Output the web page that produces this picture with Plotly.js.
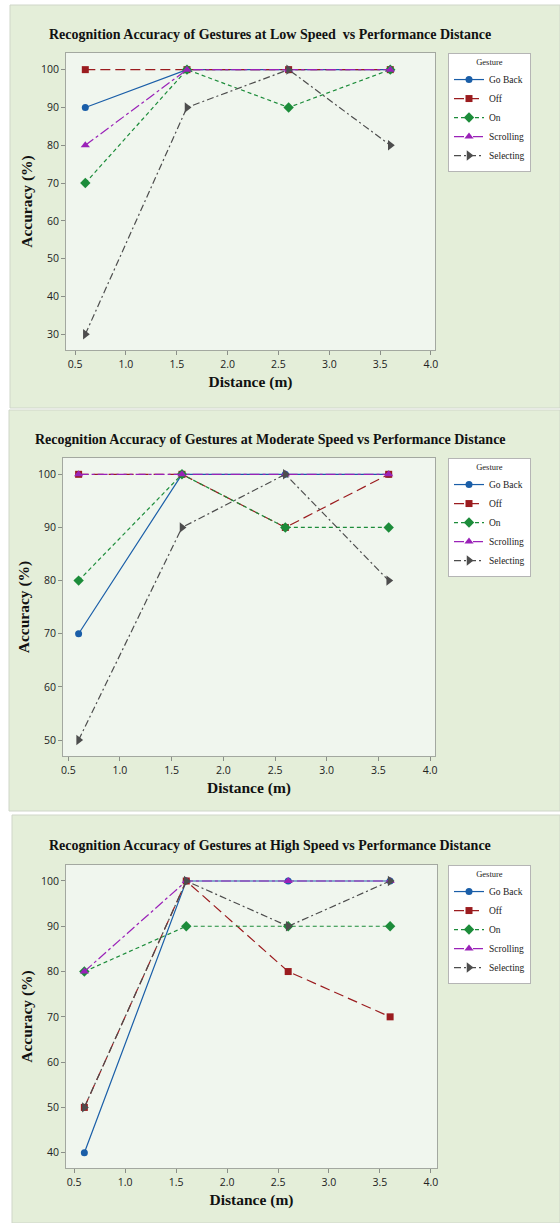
<!DOCTYPE html>
<html>
<head>
<meta charset="utf-8">
<script src="https://cdn.plot.ly/plotly-3.0.1.min.js"></script>
<style>html,body{margin:0;padding:0;background:#fff;}#chart{width:560px;height:1223px;}</style>
</head>
<body>
<div id="chart"></div>
<script>
// ---- data ----
const distance = [0.6, 1.6, 2.6, 3.6];
const gestures = ["Go Back", "Off", "On", "Scrolling", "Selecting"];

const titles = [
  "Recognition Accuracy of Gestures at Low Speed  vs Performance Distance",
  "Recognition Accuracy of Gestures at Moderate Speed vs Performance Distance",
  "Recognition Accuracy of Gestures at High Speed vs Performance Distance"
];

// Low speed
const lowGoBack    = [90, 100, 100, 100];
const lowOff       = [100, 100, 100, 100];
const lowOn        = [70, 100, 90, 100];
const lowScrolling = [80, 100, 100, 100];
const lowSelecting = [30, 90, 100, 80];

// Moderate speed
const modGoBack    = [70, 100, 100, 100];
const modOff       = [100, 100, 90, 100];
const modOn        = [80, 100, 90, 90];
const modScrolling = [100, 100, 100, 100];
const modSelecting = [50, 90, 100, 80];

// High speed
const highGoBack    = [40, 100, 100, 100];
const highOff       = [50, 100, 80, 70];
const highOn        = [80, 90, 90, 90];
const highScrolling = [80, 100, 100, 100];
const highSelecting = [50, 100, 90, 100];

const yTicksLow  = [30, 40, 50, 60, 70, 80, 90, 100];
const yTicksMod  = [50, 60, 70, 80, 90, 100];
const yTicksHigh = [40, 50, 60, 70, 80, 90, 100];
const xTicks = [0.5, 1.0, 1.5, 2.0, 2.5, 3.0, 3.5, 4.0];
const xTickText = ["0.5", "1.0", "1.5", "2.0", "2.5", "3.0", "3.5", "4.0"];

// ---- styles ----
const styles = [
  {color: "#1a5ea8", dash: "solid", symbol: "circle", size: 7},
  {color: "#9b1c1f", dash: "10px,5px", symbol: "square", size: 7},
  {color: "#1c8c3a", dash: "4px,3px", symbol: "diamond", size: 8},
  {color: "#9a22b8", dash: "10px,3px,3px,3px", symbol: "triangle-up", size: 8},
  {color: "#4d4d4d", dash: "7px,3px,2px,3px", symbol: "triangle-right", size: 9}
];

const H = 1223, W = 560;
const px = v => v / W;
const py = v => 1 - v / H;

const panels = [
  {series: [lowGoBack, lowOff, lowOn, lowScrolling, lowSelecting], yticks: yTicksLow,
   yr: [25.85, 104.4], xr: [0.41, 4.04], plot: [66, 435, 53, 350], bg: [10, 560, 5, 408], titleY: 34},
  {series: [modGoBack, modOff, modOn, modScrolling, modSelecting], yticks: yTicksMod,
   yr: [47.0, 103.07], xr: [0.449, 4.048], plot: [63, 435, 458, 756], bg: [9, 560, 410, 811], titleY: 439},
  {series: [highGoBack, highOff, highOn, highScrolling, highSelecting], yticks: yTicksHigh,
   yr: [36.62, 103.53], xr: [0.42, 4.06], plot: [66, 437, 865, 1168], bg: [12, 560, 815, 1223], titleY: 845}
];

const traces = [];
const layout = {
  width: W, height: H,
  margin: {l: 0, r: 0, t: 0, b: 0},
  paper_bgcolor: "#ffffff",
  showlegend: true,
  shapes: [], annotations: []
};

const serif = "Liberation Serif, Times New Roman, serif";
const sans = "Open Sans, Noto Sans, sans-serif";

panels.forEach((p, i) => {
  const n = i === 0 ? "" : String(i + 1);
  const xa = "x" + n, ya = "y" + n;
  const legName = "legend" + n;
  p.series.forEach((vals, k) => {
    const s = styles[k];
    traces.push({
      type: "scatter", mode: "lines+markers",
      x: distance, y: vals, name: gestures[k],
      xaxis: xa, yaxis: ya, legend: legName,
      line: {color: s.color, width: 1.2, dash: s.dash},
      marker: {symbol: s.symbol, size: s.size, color: s.color}
    });
  });
  // panel background
  layout.shapes.push({
    type: "rect", xref: "paper", yref: "paper", layer: "below",
    x0: px(p.bg[0]), x1: px(p.bg[1]), y0: py(p.bg[3]), y1: py(p.bg[2]),
    fillcolor: "#e4eed9", line: {color: "#cfd6c9", width: 1}
  });
  layout["xaxis" + n] = {
    domain: [px(p.plot[0]), px(p.plot[1])], anchor: ya,
    range: p.xr, tickvals: xTicks, ticktext: xTickText,
    showgrid: false, zeroline: false,
    showline: true, mirror: true, linecolor: "#a3a8a0", linewidth: 1,
    ticks: "outside", ticklen: 4, tickcolor: "#8a8f88",
    tickfont: {family: sans, size: 10.5, color: "#222"},
    title: {text: "Distance (m)", font: {family: serif, size: 15.5, color: "#111", weight: "bold"}, standoff: 6}
  };
  layout["yaxis" + n] = {
    domain: [py(p.plot[3]), py(p.plot[2])], anchor: xa,
    range: p.yr, tickvals: p.yticks,
    showgrid: false, zeroline: false,
    showline: true, mirror: true, linecolor: "#a3a8a0", linewidth: 1,
    ticks: "outside", ticklen: 4, tickcolor: "#8a8f88",
    tickfont: {family: sans, size: 10.5, color: "#222"},
    title: {text: "Accuracy (%)", font: {family: serif, size: 15.5, color: "#111", weight: "bold"}, standoff: 4}
  };
  // plot area background
  layout.shapes.push({
    type: "rect", xref: "paper", yref: "paper", layer: "below",
    x0: px(p.plot[0]), x1: px(p.plot[1]), y0: py(p.plot[3]), y1: py(p.plot[2]),
    fillcolor: "#f0f6ee", line: {width: 0}
  });
  layout[legName] = {
    x: px(448), y: py(p.plot[2]), xanchor: "left", yanchor: "top",
    bgcolor: "#ffffff", bordercolor: "#b5b5b5", borderwidth: 1,
    font: {family: serif, size: 9.5, color: "#222"},
    title: {text: "Gesture", side: "top center", font: {family: serif, size: 8.5, color: "#222"}},
    tracegroupgap: 0, itemwidth: 30
  };
  layout.annotations.push({
    text: "<b>" + titles[i] + "</b>", xref: "paper", yref: "paper",
    x: px(270), y: py(p.titleY), xanchor: "center", yanchor: "middle",
    showarrow: false, font: {family: serif, size: 14, color: "#111"}
  });
});

Plotly.newPlot("chart", traces, layout, {displayModeBar: false, staticPlot: true});
</script>
</body>
</html>
